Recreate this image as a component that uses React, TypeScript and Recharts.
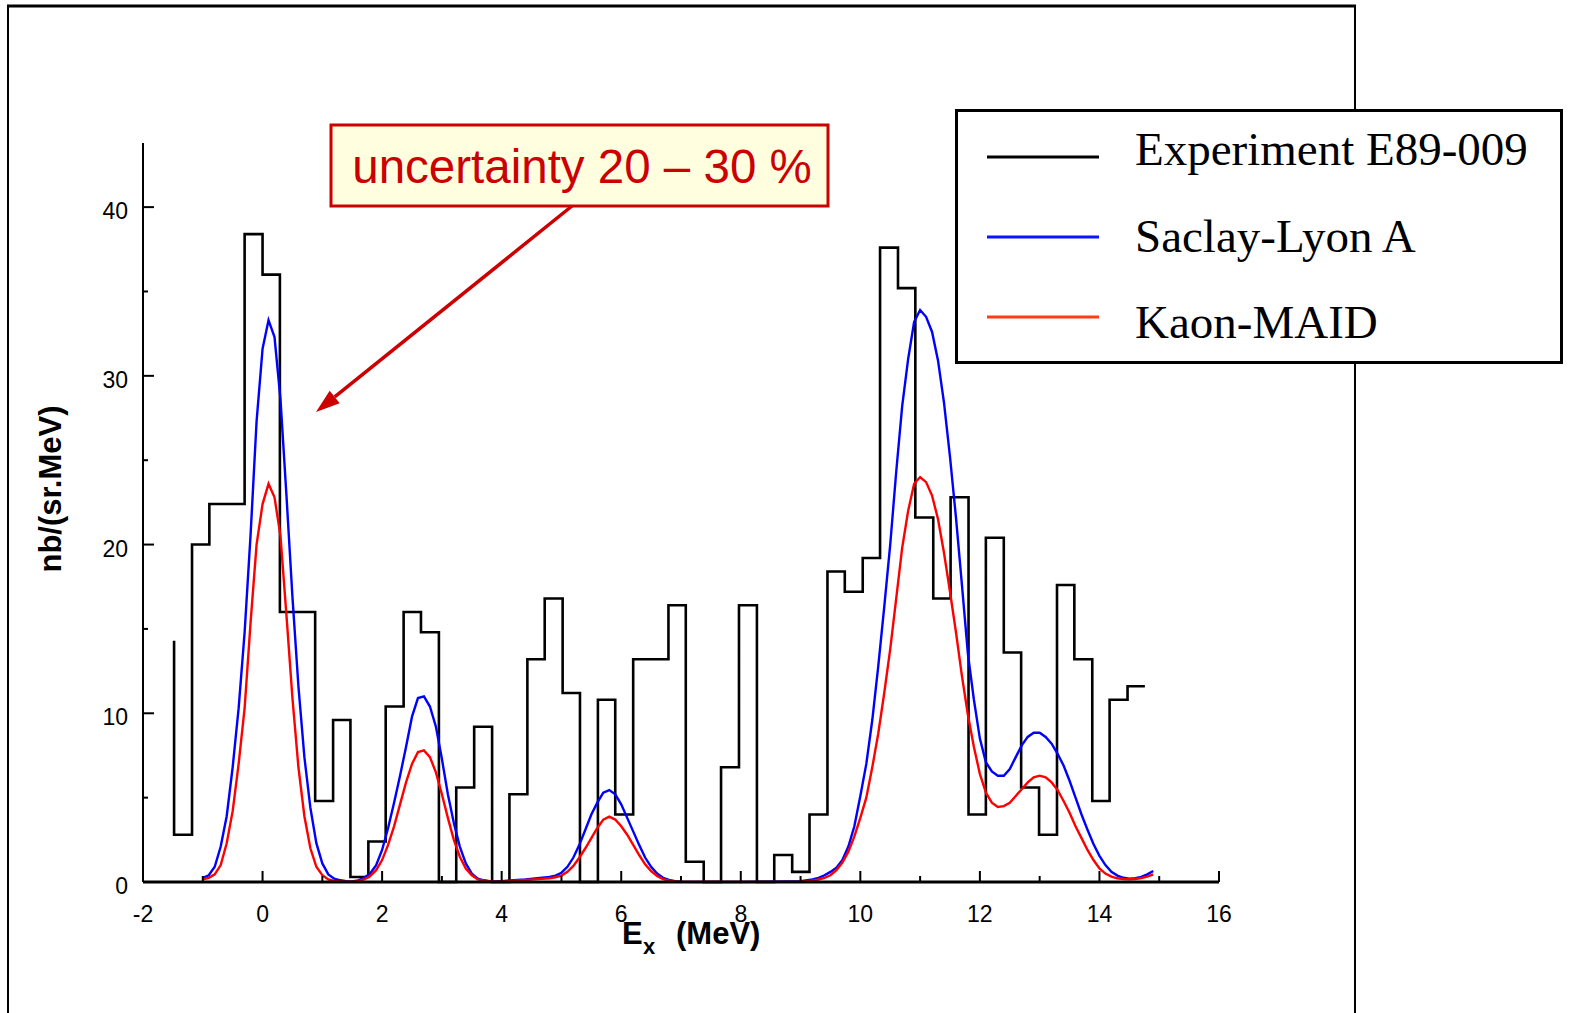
import React from 'react';
import { LineChart, Line, XAxis, YAxis, Legend } from 'recharts';

// E89-009 histogram: bin edges in MeV and counts in nb/(sr.MeV)
const binEdges = [
  -1.48, -1.18, -0.89, -0.59, -0.3, 0.0, 0.29, 0.59, 0.88, 1.18, 1.47, 1.77, 2.06, 2.36,
  2.65, 2.95, 3.24, 3.54, 3.84, 4.13, 4.43, 4.72, 5.02, 5.31, 5.61, 5.9, 6.2, 6.49,
  6.79, 7.08, 7.38, 7.67, 7.97, 8.27, 8.56, 8.86, 9.15, 9.45, 9.74, 10.04, 10.33, 10.63,
  10.92, 11.22, 11.51, 11.81, 12.1, 12.4, 12.69, 12.99, 13.29, 13.58, 13.88, 14.17, 14.47, 14.76,
];
const binCounts = [
  2.8, 20.0, 22.4, 22.4, 38.4, 36.0, 16.0, 16.0, 4.8, 9.6, 0.3, 2.4, 10.4, 16.0,
  14.8, 0.0, 5.6, 9.2, 0.0, 5.2, 13.2, 16.8, 11.2, 0.0, 10.8, 4.0, 13.2, 13.2,
  16.4, 1.2, 0.0, 6.8, 16.4, 0.0, 1.6, 0.6, 4.0, 18.4, 17.2, 19.2, 37.6, 35.2,
  21.6, 16.8, 22.8, 4.0, 20.4, 13.6, 5.6, 2.8, 17.6, 13.2, 4.8, 10.8, 11.6,
];
// level of the bin left of the first drawn one
const histLead = 14.3;

// model calculations, sampled in E_x (MeV)
const modelEx = [
  -1.0, -0.9, -0.8, -0.7, -0.6, -0.5, -0.4, -0.3, -0.2, -0.1, 0.0, 0.1, 0.2, 0.3, 0.4, 0.5, 0.6,
  0.7, 0.8, 0.9, 1.0, 1.1, 1.2, 1.3, 1.4, 1.5,
  1.6, 1.7, 1.8, 1.9, 2.0, 2.1, 2.2, 2.3, 2.4, 2.5, 2.6, 2.7, 2.8, 2.9, 3.0, 3.1, 3.2, 3.3,
  3.4, 3.5, 3.6, 3.7, 3.8, 3.9, 4.0,
  4.2, 4.4, 4.6, 4.8, 4.9, 5.0, 5.1, 5.2, 5.3, 5.4, 5.5, 5.6, 5.7, 5.8, 5.9, 6.0, 6.1, 6.2,
  6.3, 6.4, 6.5, 6.6, 6.7, 6.8, 6.9, 7.0,
  7.5, 8.0, 8.5, 9.0,
  9.2, 9.3, 9.4, 9.5, 9.6, 9.7, 9.8, 9.9, 10.0, 10.1, 10.2, 10.3, 10.4, 10.5, 10.6, 10.7,
  10.8, 10.9, 11.0, 11.1, 11.2, 11.3, 11.4, 11.5, 11.6, 11.7, 11.8, 11.9, 12.0, 12.1, 12.2,
  12.3, 12.4, 12.5, 12.6, 12.7, 12.8, 12.9, 13.0, 13.1, 13.2, 13.3, 13.4, 13.5, 13.6, 13.7,
  13.8, 13.9, 14.0, 14.1, 14.2, 14.3, 14.4, 14.5, 14.6, 14.7, 14.8, 14.9,
];
const saclayLyon = [
  0.25, 0.4, 0.9, 2.1, 3.9, 6.8, 10.3, 14.8, 20.6, 27.3, 31.6, 33.3, 32.3, 28.6, 22.9, 16.9, 11.6,
  7.4, 4.4, 2.3, 1.1, 0.45, 0.2, 0.1, 0.05, 0.03,
  0.1, 0.25, 0.5, 1.0, 1.9, 3.2, 4.7, 6.3, 8.0, 9.8, 10.9, 11.0, 10.4, 9.2, 7.3, 5.2, 3.5, 2.1,
  1.1, 0.5, 0.2, 0.1, 0.05, 0.03, 0.05,
  0.1, 0.15, 0.22, 0.3, 0.38, 0.55, 0.9, 1.45, 2.2, 3.1, 4.0, 4.7, 5.3, 5.45, 5.2, 4.6, 3.8, 3.0,
  2.2, 1.45, 0.9, 0.5, 0.25, 0.12, 0.05, 0.02,
  0.01, 0.01, 0.02, 0.05,
  0.15, 0.25, 0.4, 0.6, 0.85, 1.3, 2.1, 3.3, 5.1, 7.0, 9.6, 12.8, 16.3, 20.0, 24.3, 28.2,
  31.0, 33.2, 33.9, 33.5, 32.6, 30.9, 28.4, 25.2, 21.6, 17.6, 13.5, 10.8, 8.5, 7.1, 6.55,
  6.3, 6.3, 6.7, 7.4, 8.1, 8.6, 8.85, 8.85, 8.6, 8.2, 7.6, 6.9, 6.0, 5.0, 4.0,
  3.1, 2.25, 1.55, 1.0, 0.6, 0.38, 0.25, 0.2, 0.22, 0.3, 0.45, 0.65,
];
const kaonMaid = [
  0.15, 0.25, 0.45, 1.0, 2.3, 4.2, 7.0, 10.3, 15.4, 20.0, 22.4, 23.6, 22.8, 20.5, 15.8, 10.9, 6.8,
  3.9, 2.0, 0.9, 0.4, 0.15, 0.07, 0.03, 0.02, 0.02,
  0.05, 0.15, 0.35, 0.7, 1.3, 2.2, 3.3, 4.6, 5.9, 7.0, 7.7, 7.8, 7.4, 6.5, 5.2, 3.8, 2.5, 1.5,
  0.8, 0.4, 0.15, 0.08, 0.03, 0.02, 0.03,
  0.07, 0.12, 0.17, 0.22, 0.28, 0.38, 0.6, 0.95, 1.45, 2.0, 2.6, 3.2, 3.7, 3.87, 3.7, 3.3, 2.8, 2.2,
  1.6, 1.05, 0.65, 0.35, 0.17, 0.08, 0.03, 0.01,
  0.0, 0.0, 0.01, 0.02,
  0.08, 0.15, 0.25, 0.4, 0.7, 1.15, 1.8, 2.7, 3.8, 5.0, 6.8, 8.8, 11.2, 13.8, 16.8, 19.8,
  22.0, 23.6, 24.0, 23.7, 22.9, 21.5, 19.5, 17.2, 14.8, 12.2, 9.9, 8.0, 6.4, 5.3, 4.7,
  4.45, 4.5, 4.7, 5.1, 5.5, 5.9, 6.2, 6.3, 6.2, 5.9, 5.45, 4.8, 4.1, 3.3, 2.6,
  1.9, 1.3, 0.8, 0.5, 0.32, 0.22, 0.18, 0.16, 0.18, 0.24, 0.32, 0.45,
];

const xTicks = [-2, -1, 0, 1, 2, 3, 4, 5, 6, 7, 8, 9, 10, 11, 12, 13, 14, 15, 16];
const yTicks = [0, 5, 10, 15, 20, 25, 30, 35, 40];

const seriesNames = ['Experiment E89-009', 'Saclay-Lyon A', 'Kaon-MAID'];

const histData = [
  { x: binEdges[0], y: histLead },
  ...binCounts.map((v, i) => ({ x: binEdges[i], y: v })),
  { x: binEdges[binEdges.length - 1], y: binCounts[binCounts.length - 1] },
];
const saclayData = modelEx.map((x, i) => ({ x, y: saclayLyon[i] }));
const maidData = modelEx.map((x, i) => ({ x, y: kaonMaid[i] }));

// legend swatches are drawn a touch warmer than the curves
const legendSwatch: Record<string, string> = {
  'Experiment E89-009': '#000000',
  'Saclay-Lyon A': '#0a14ff',
  'Kaon-MAID': '#ff3c14',
};

const sans = '"Liberation Sans", Arial, sans-serif';
const serif = '"Liberation Serif", "Times New Roman", serif';

const XTick = ({ x, y, payload }: any) => {
  const major = payload.value % 2 === 0;
  return (
    <g>
      <line x1={x} x2={x} y1={y} y2={y - (major ? 11 : 6)} stroke="#000" strokeWidth={2} />
      {major && (
        <text x={x} y={y + 40} textAnchor="middle" fontFamily={sans} fontSize={23} fill="#000">
          {payload.value}
        </text>
      )}
    </g>
  );
};

const YTick = ({ x, y, payload }: any) => {
  const major = payload.value % 10 === 0;
  return (
    <g>
      <line x1={x} x2={x + (major ? 11 : 5)} y1={y} y2={y} stroke="#000" strokeWidth={2} />
      {major && (
        <text x={x - 15} y={y + 12} textAnchor="end" fontFamily={sans} fontSize={23} fill="#000">
          {payload.value}
        </text>
      )}
    </g>
  );
};

const LegendBox = ({ payload }: any) => {
  const lineY = [45, 125, 205];
  const textY = [53, 140, 226];
  const items = [...(payload || [])].sort(
    (a: any, b: any) => seriesNames.indexOf(a.value) - seriesNames.indexOf(b.value)
  );
  return (
    <div style={{ width: 602, height: 249, border: '3px solid #000', background: '#fff' }}>
      <svg width={602} height={249}>
        {items.map((p: any, i: number) => (
          <g key={p.value}>
            <line x1={29} x2={141} y1={lineY[i]} y2={lineY[i]} stroke={legendSwatch[p.value] || p.color} strokeWidth={3} />
            <text x={177} y={textY[i]} fontFamily={serif} fontSize={47} fill="#000">
              {p.value}
            </text>
          </g>
        ))}
      </svg>
    </div>
  );
};

// arrow from the note box down to the first peak
const arrowFrom = { x: 572, y: 206 };
const arrowTo = { x: 316, y: 412 };

function Arrow() {
  const dx = arrowTo.x - arrowFrom.x;
  const dy = arrowTo.y - arrowFrom.y;
  const len = Math.hypot(dx, dy);
  const ux = dx / len;
  const uy = dy / len;
  const head = 24;
  const half = 8;
  const bx = arrowTo.x - ux * head;
  const by = arrowTo.y - uy * head;
  const pts = `${arrowTo.x},${arrowTo.y} ${bx - uy * half},${by + ux * half} ${bx + uy * half},${by - ux * half}`;
  return (
    <g>
      <line x1={arrowFrom.x} y1={arrowFrom.y} x2={bx} y2={by} stroke="#cc0000" strokeWidth={3.5} />
      <polygon points={pts} fill="#cc0000" />
    </g>
  );
}

export default function App() {
  return (
    <div style={{ position: 'absolute', left: 0, top: 0, width: 1569, height: 1013, background: '#fff' }}>
      <svg width={1569} height={1013} style={{ position: 'absolute', left: 0, top: 0 }}>
        {/* page frame */}
        <line x1={8} y1={6} x2={8} y2={1013} stroke="#000" strokeWidth={2} />
        <line x1={1355} y1={6} x2={1355} y2={1013} stroke="#000" strokeWidth={2} />
        <line x1={7} y1={6} x2={1356} y2={6} stroke="#000" strokeWidth={3} />

        {/* note box */}
        <rect x={331} y={125} width={497} height={81} fill="#ffffe0" stroke="#cc0000" strokeWidth={3} />
        <text x={582} y={183} textAnchor="middle" fontFamily={sans} fontSize={47.5} fill="#cc0000">
          uncertainty 20 – 30 %
        </text>
        <Arrow />

        {/* axis titles */}
        <text
          x={61}
          y={489}
          transform="rotate(-90 61 489)"
          textAnchor="middle"
          fontFamily={sans}
          fontWeight="bold"
          fontSize={31}
          fill="#000"
        >
          nb/(sr.MeV)
        </text>
        <text x={622} y={944} fontFamily={sans} fontWeight="bold" fontSize={31} fill="#000">
          E
          <tspan x={643} dy={10} fontSize={22}>x</tspan>
          <tspan x={676} dy={-10}>(MeV)</tspan>
        </text>
      </svg>

      <div style={{ position: 'absolute', left: 0, top: 0 }}>
        <LineChart width={1569} height={1013} margin={{ top: 143, right: 350, bottom: 130, left: 142 }}>
          <XAxis
            type="number"
            dataKey="x"
            domain={[-2, 16]}
            ticks={xTicks}
            interval={0}
            height={1}
            tickSize={0}
            tickMargin={0}
            tickLine={false}
            tick={<XTick />}
            axisLine={{ stroke: '#000', strokeWidth: 3 }}
          />
          <YAxis
            type="number"
            domain={[0, 43.8]}
            ticks={yTicks}
            interval={0}
            width={1}
            tickSize={0}
            tickMargin={0}
            tickLine={false}
            tick={<YTick />}
            axisLine={{ stroke: '#000', strokeWidth: 2 }}
          />
          <Legend
            layout="vertical"
            align="center"
            verticalAlign="middle"
            content={<LegendBox />}
            wrapperStyle={{ left: 955, top: 109, width: 608, height: 255, margin: 0 }}
          />
          <Line
            name={seriesNames[0]}
            data={histData}
            dataKey="y"
            type="stepAfter"
            stroke="#000"
            strokeWidth={2.6}
            dot={false}
            activeDot={false}
            isAnimationActive={false}
          />
          <Line
            name={seriesNames[1]}
            data={saclayData}
            dataKey="y"
            type="linear"
            stroke="#0000ff"
            strokeWidth={2.4}
            dot={false}
            activeDot={false}
            isAnimationActive={false}
          />
          <Line
            name={seriesNames[2]}
            data={maidData}
            dataKey="y"
            type="linear"
            stroke="#ff0000"
            strokeWidth={2.4}
            dot={false}
            activeDot={false}
            isAnimationActive={false}
          />
        </LineChart>
      </div>
    </div>
  );
}
